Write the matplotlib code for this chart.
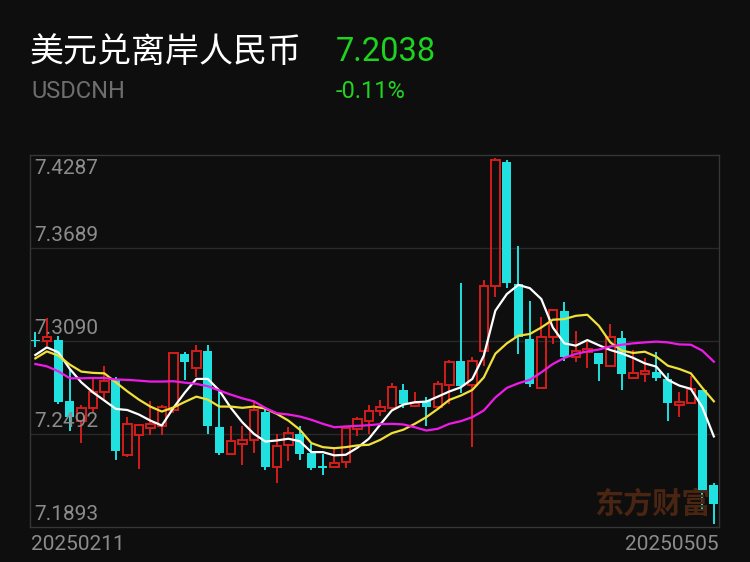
import numpy as np
import matplotlib
matplotlib.use("Agg")
import matplotlib.pyplot as plt

plt.rcParams['font.family'] = ['Roboto', 'Noto Sans CJK SC', 'DejaVu Sans']

# daily candles 2025-02-11 .. 2025-05-05
opens = [7.3095, 7.3087, 7.3096, 7.2702, 7.2578, 7.2657, 7.2760, 7.2846, 7.2354, 7.2487,
         7.2531, 7.2546, 7.2647, 7.3007, 7.2914, 7.3023, 7.2535, 7.2365, 7.2429, 7.2454,
         7.2632, 7.2279, 7.2418, 7.2493, 7.2368, 7.2283, 7.2279, 7.2311, 7.2525, 7.2574,
         7.2638, 7.2660, 7.2777, 7.2670, 7.2707, 7.2664, 7.2809, 7.2964, 7.2809, 7.3028,
         7.3445, 7.4241, 7.3456, 7.3103, 7.2788, 7.3118, 7.3280, 7.2989, 7.3017, 7.3010,
         7.2931, 7.3109, 7.2850, 7.2878, 7.2888, 7.2846, 7.2681, 7.2689, 7.2775, 7.2161]
highs = [7.3146, 7.3238, 7.3124, 7.2910, 7.2679, 7.2856, 7.2931, 7.2856, 7.2600, 7.2555,
         7.2707, 7.2681, 7.3021, 7.3017, 7.3066, 7.3066, 7.2771, 7.2540, 7.2540, 7.2696,
         7.2664, 7.2493, 7.2535, 7.2546, 7.2429, 7.2365, 7.2411, 7.2546, 7.2604, 7.2681,
         7.2711, 7.2818, 7.2814, 7.2765, 7.2732, 7.2835, 7.2968, 7.3466, 7.2989, 7.3482,
         7.4269, 7.4258, 7.3702, 7.3349, 7.3242, 7.3295, 7.3338, 7.3156, 7.3081, 7.3012,
         7.3199, 7.3152, 7.3032, 7.2981, 7.3017, 7.2882, 7.2760, 7.2867, 7.2777, 7.2176]
lows = [7.3053, 7.3060, 7.2686, 7.2514, 7.2433, 7.2632, 7.2718, 7.2322, 7.2343, 7.2268,
        7.2482, 7.2482, 7.2625, 7.2840, 7.2856, 7.2493, 7.2354, 7.2362, 7.2289, 7.2368,
        7.2262, 7.2176, 7.2315, 7.2322, 7.2262, 7.2225, 7.2276, 7.2275, 7.2476, 7.2493,
        7.2610, 7.2653, 7.2660, 7.2664, 7.2540, 7.2653, 7.2686, 7.2754, 7.2407, 7.2931,
        7.3370, 7.3430, 7.3007, 7.2792, 7.2786, 7.3071, 7.2959, 7.2953, 7.2917, 7.2835,
        7.2921, 7.2775, 7.2848, 7.2824, 7.2831, 7.2574, 7.2604, 7.2687, 7.1993, 7.1911]
closes = [7.3089, 7.3113, 7.2700, 7.2604, 7.2660, 7.2765, 7.2835, 7.2379, 7.2553, 7.2551,
          7.2553, 7.2664, 7.3013, 7.2953, 7.3023, 7.2546, 7.2368, 7.2445, 7.2454, 7.2643,
          7.2279, 7.2413, 7.2499, 7.2365, 7.2275, 7.2275, 7.2304, 7.2529, 7.2589, 7.2638,
          7.2664, 7.2792, 7.2686, 7.2689, 7.2664, 7.2814, 7.2957, 7.2803, 7.2960, 7.3445,
          7.4254, 7.3466, 7.3113, 7.2814, 7.3118, 7.3289, 7.2989, 7.3023, 7.3039, 7.2942,
          7.3113, 7.2878, 7.2882, 7.2895, 7.2850, 7.2689, 7.2696, 7.2782, 7.2117, 7.2038]

ma_white = [7.3000, 7.3049, 7.3017, 7.2910, 7.2824, 7.2760, 7.2707, 7.2653, 7.2646, 7.2617,
            7.2578, 7.2546, 7.2659, 7.2758, 7.2846, 7.2846, 7.2771, 7.2660, 7.2567, 7.2493,
            7.2443, 7.2450, 7.2461, 7.2445, 7.2375, 7.2375, 7.2354, 7.2358, 7.2403, 7.2461,
            7.2553, 7.2643, 7.2681, 7.2696, 7.2700, 7.2732, 7.2765, 7.2792, 7.2846, 7.2996,
            7.3285, 7.3392, 7.3451, 7.3430, 7.3360, 7.3177, 7.3075, 7.3060, 7.3096, 7.3063,
            7.3032, 7.3010, 7.2981, 7.2946, 7.2925, 7.2840, 7.2803, 7.2782, 7.2664, 7.2476]
ma_yellow = [7.2978, 7.3023, 7.2996, 7.2938, 7.2893, 7.2885, 7.2882, 7.2824, 7.2766, 7.2713,
             7.2668, 7.2636, 7.2662, 7.2698, 7.2732, 7.2713, 7.2668, 7.2668, 7.2660, 7.2668,
             7.2655, 7.2621, 7.2578, 7.2519, 7.2433, 7.2407, 7.2400, 7.2407, 7.2418, 7.2422,
             7.2454, 7.2497, 7.2519, 7.2557, 7.2600, 7.2653, 7.2711, 7.2739, 7.2775, 7.2856,
             7.3008, 7.3075, 7.3124, 7.3135, 7.3177, 7.3227, 7.3231, 7.3252, 7.3259, 7.3188,
             7.3081, 7.3028, 7.3013, 7.3021, 7.2989, 7.2931, 7.2910, 7.2882, 7.2788, 7.2702]
ma_magenta = [7.2942, 7.2927, 7.2895, 7.2850, 7.2850, 7.2852, 7.2852, 7.2842, 7.2840, 7.2835,
              7.2829, 7.2829, 7.2831, 7.2822, 7.2814, 7.2799, 7.2771, 7.2745, 7.2721, 7.2702,
              7.2659, 7.2625, 7.2617, 7.2604, 7.2583, 7.2557, 7.2535, 7.2540, 7.2544, 7.2548,
              7.2555, 7.2557, 7.2553, 7.2535, 7.2514, 7.2525, 7.2557, 7.2574, 7.2600, 7.2643,
              7.2726, 7.2788, 7.2818, 7.2840, 7.2888, 7.2942, 7.2981, 7.3007, 7.3023, 7.3035,
              7.3055, 7.3066, 7.3075, 7.3081, 7.3086, 7.3081, 7.3068, 7.3066, 7.3028, 7.2957]

y_ticks = [7.1893, 7.2492, 7.3090, 7.3689, 7.4287]
first_date, last_date = '20250211', '20250505'

bg = '#0e0e0e'
up_col = '#d21e1c'
down_col = '#20e0e0'

fig = plt.figure(figsize=(7.5, 5.62), dpi=100, facecolor=bg)
ax = fig.add_axes([30.5 / 750, 1 - 527 / 562, (719 - 30.5) / 750, (527 - 155) / 562])
ax.set_facecolor(bg)

x = np.arange(len(closes))
o = np.array(opens); c = np.array(closes); h = np.array(highs); l = np.array(lows)
w = 0.74
for i in x:
    top, bot = max(o[i], c[i]), min(o[i], c[i])
    hgt = max(top - bot, 0.0004)
    if c[i] >= o[i]:
        ax.vlines(i, bot, l[i], color=up_col, lw=1.4, zorder=2)
        ax.vlines(i, top, h[i], color=up_col, lw=1.4, zorder=2)
        ax.bar(i, hgt, w, bottom=bot, fill=False, edgecolor=up_col, lw=1.4, zorder=3)
    else:
        ax.vlines(i, l[i], h[i], color=down_col, lw=1.4, zorder=2)
        ax.bar(i, hgt, w + 0.06, bottom=bot, color=down_col, lw=0, zorder=3)

ax.plot(x, ma_white, color='white', lw=1.6, zorder=4)
ax.plot(x, ma_yellow, color='#f0e03a', lw=1.6, zorder=4)
ax.plot(x, ma_magenta, color='#ee1be8', lw=1.6, zorder=4)

ax.set_xlim(-0.42, 59.45)
ax.set_ylim(y_ticks[0], y_ticks[-1])
for yv in y_ticks[1:-1]:
    ax.axhline(yv, color='#292929', lw=1.0, zorder=1)
for s in ax.spines.values():
    s.set_color('#363636')
    s.set_linewidth(1.0)
ax.set_xticks([]); ax.set_yticks([])

# price labels inside the plot
for k, yv in enumerate(y_ticks):
    if k == len(y_ticks) - 1:
        ax.annotate(f'{yv:.4f}', (0, 1), xycoords='axes fraction', xytext=(3, -3),
                    textcoords='offset points', va='top', ha='left',
                    color='#8c8c8c', fontsize=15, zorder=5)
    else:
        ax.annotate(f'{yv:.4f}', (0, yv), xycoords=('axes fraction', 'data'), xytext=(3, 2),
                    textcoords='offset points', va='bottom', ha='left',
                    color='#8c8c8c', fontsize=15, zorder=5)

fig.text(31 / 750, 1 - 545 / 562, first_date, color='#8c8c8c', fontsize=15, va='center', ha='left')
fig.text(719 / 750, 1 - 545 / 562, last_date, color='#8c8c8c', fontsize=15, va='center', ha='right')

# header
fig.text(30 / 750, 1 - 52 / 562, '美元兑离岸人民币', color='white', fontsize=24.5,
         family=['Noto Sans CJK SC', 'DejaVu Sans'], fontweight='light', va='center', ha='left')
fig.text(31 / 750, 1 - 92 / 562, 'USDCNH', color='#6e6e6e', fontsize=17, va='center', ha='left')
fig.text(336 / 750, 1 - 52 / 562, f'{closes[-1]:.4f}', color='#1ed41e', fontsize=23.5, va='center', ha='left')
fig.text(336 / 750, 1 - 92 / 562, '-0.11%', color='#1ed41e', fontsize=17, va='center', ha='left')

# watermark
fig.text(653 / 750, 1 - 504 / 562, '东方财富', color='#4a2512', fontsize=21, fontweight='bold',
         family=['Noto Sans CJK SC', 'DejaVu Sans'], va='center', ha='center', zorder=1)

fig.savefig('out.png', dpi=100, facecolor=bg)
